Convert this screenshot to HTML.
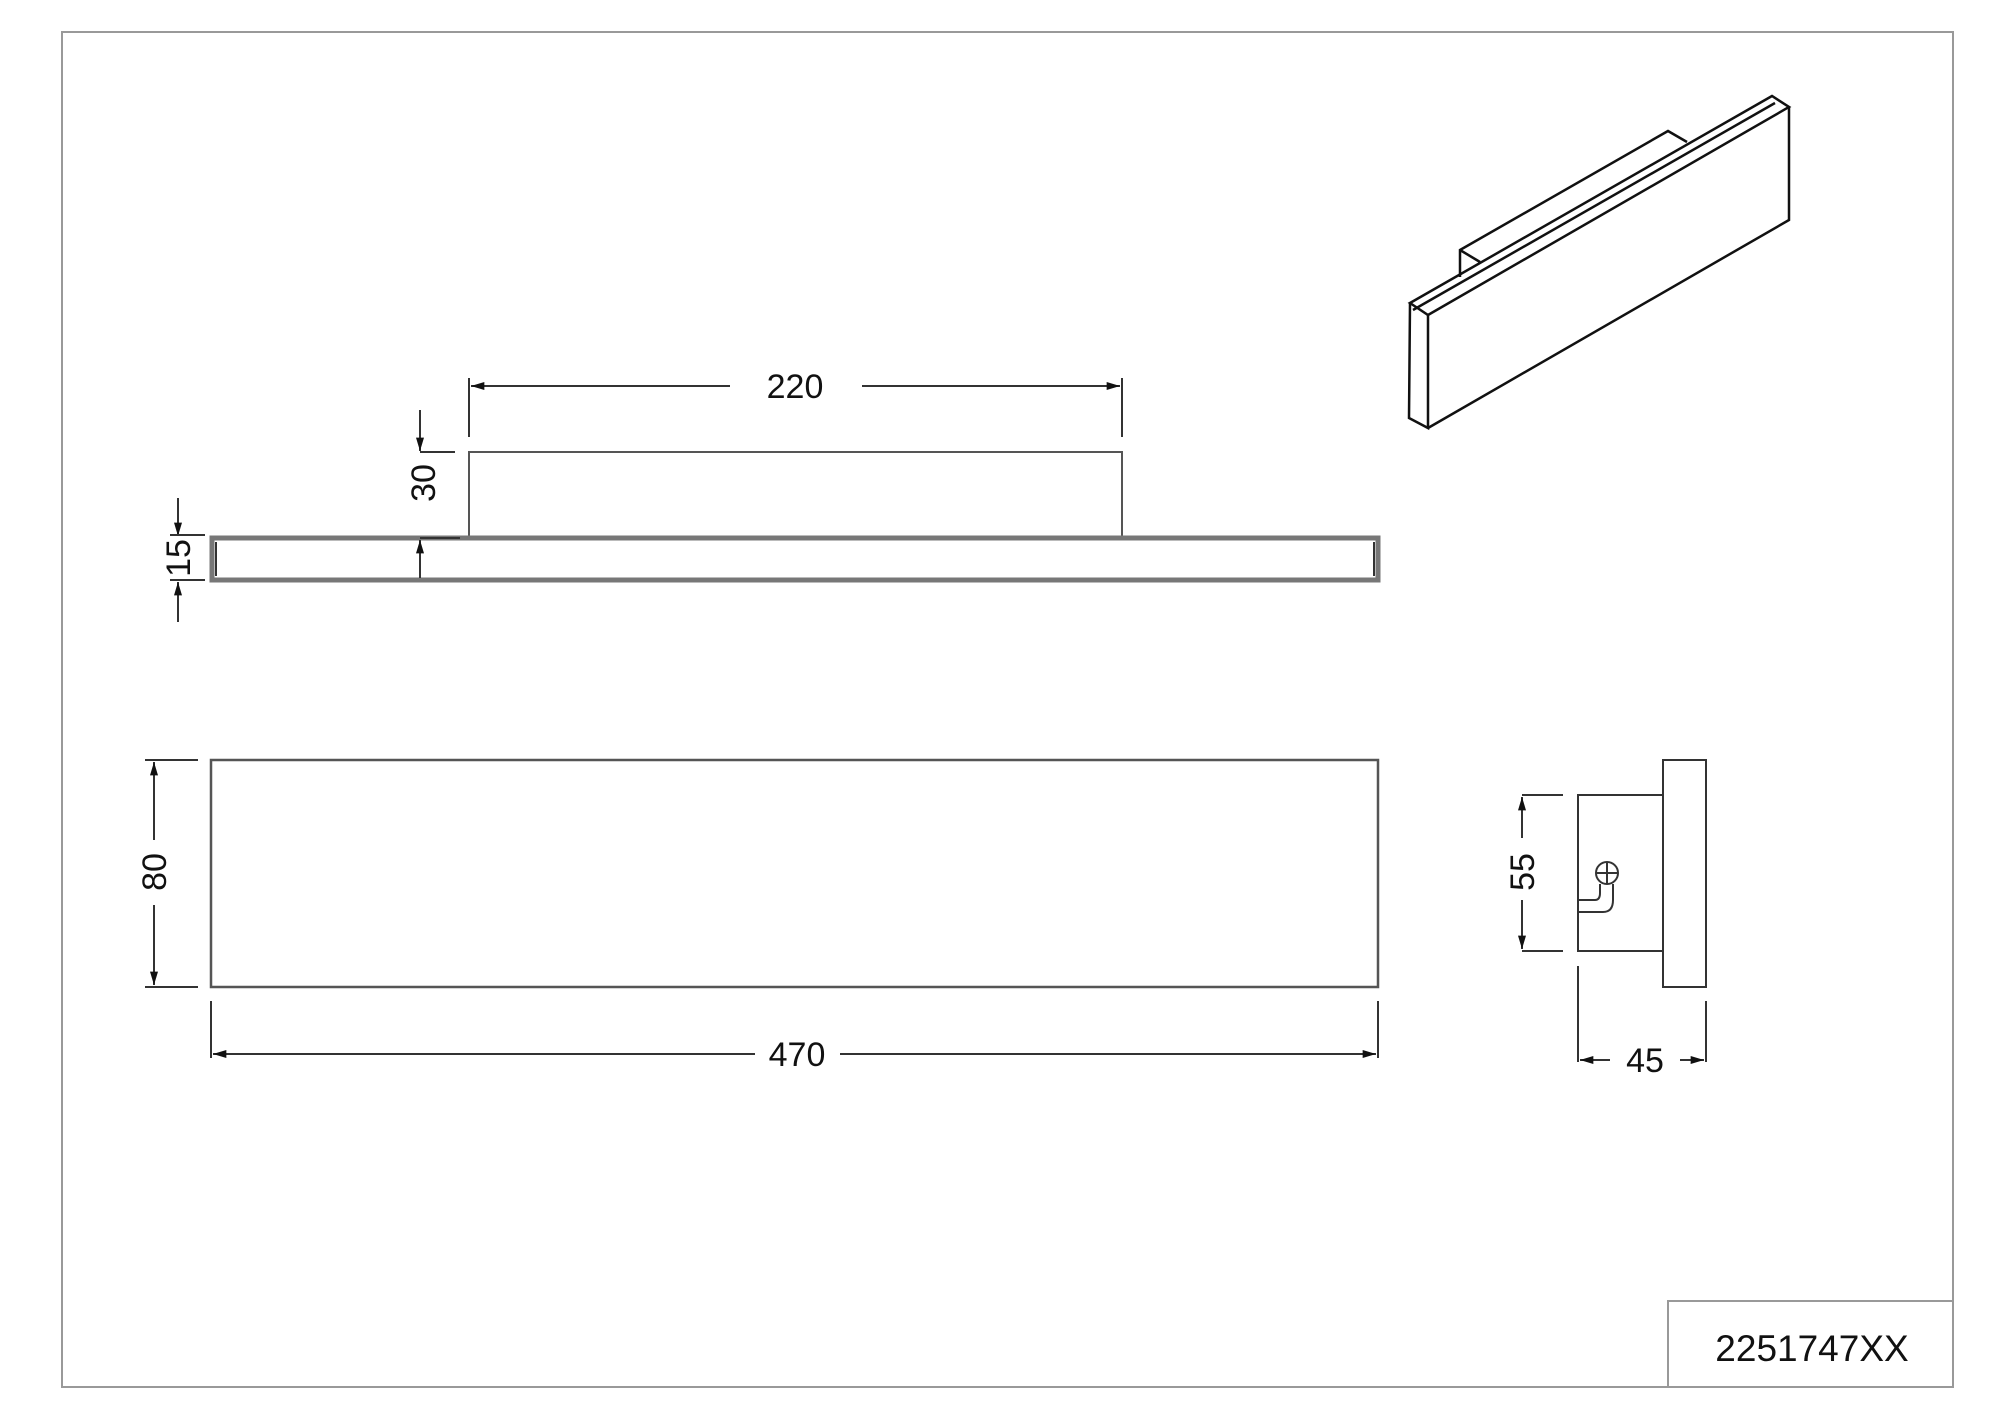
<!DOCTYPE html>
<html><head><meta charset="utf-8"><style>
html,body{margin:0;padding:0;background:#fff;}
svg{display:block;}
text{font-family:"Liberation Sans",sans-serif;fill:#111;}
</style></head><body>
<svg width="2000" height="1417" viewBox="0 0 2000 1417" xmlns="http://www.w3.org/2000/svg">
<defs>
<marker id="a" viewBox="0 0 10 6" refX="10" refY="3" markerWidth="14" markerHeight="8" markerUnits="userSpaceOnUse" orient="auto"><path d="M0,0 L10,3 L0,6 z" fill="#111"/></marker>
</defs>
<rect x="62" y="32" width="1891" height="1355" fill="none" stroke="#999" stroke-width="2"/>
<rect x="1668" y="1301" width="285" height="86" fill="none" stroke="#999" stroke-width="2"/>
<text x="1812" y="1361" font-size="37" text-anchor="middle">2251747XX</text>

<g stroke="#333" fill="none" stroke-width="2">
<rect x="469" y="452" width="653" height="85" stroke="#555"/>
<rect x="212" y="538" width="1166" height="42" stroke="#777" stroke-width="5"/>
<line x1="216" y1="542" x2="216" y2="576" stroke="#333" stroke-width="2"/>
<line x1="1374" y1="542" x2="1374" y2="576" stroke="#333" stroke-width="2"/>
<line x1="469" y1="378" x2="469" y2="437"/>
<line x1="1122" y1="378" x2="1122" y2="437"/>
<line x1="730" y1="386" x2="471" y2="386" marker-end="url(#a)"/>
<line x1="862" y1="386" x2="1120" y2="386" marker-end="url(#a)"/>
<line x1="420" y1="410" x2="420" y2="451" marker-end="url(#a)"/>
<line x1="420" y1="452" x2="455" y2="452"/>
<line x1="420" y1="578" x2="420" y2="540" marker-end="url(#a)"/>
<line x1="420" y1="538" x2="460" y2="538"/>
<line x1="178" y1="498" x2="178" y2="536" marker-end="url(#a)"/>
<line x1="178" y1="622" x2="178" y2="582" marker-end="url(#a)"/>
<line x1="170" y1="535" x2="205" y2="535"/>
<line x1="170" y1="580" x2="205" y2="580"/>

<rect x="211" y="760" width="1167" height="227" stroke="#555" stroke-width="2.5"/>
<line x1="154" y1="840" x2="154" y2="762" marker-end="url(#a)"/>
<line x1="154" y1="905" x2="154" y2="985" marker-end="url(#a)"/>
<line x1="145" y1="760" x2="198" y2="760"/>
<line x1="145" y1="987" x2="198" y2="987"/>
<line x1="211" y1="1001" x2="211" y2="1058"/>
<line x1="1378" y1="1001" x2="1378" y2="1058"/>
<line x1="755" y1="1054" x2="213" y2="1054" marker-end="url(#a)"/>
<line x1="840" y1="1054" x2="1376" y2="1054" marker-end="url(#a)"/>

<rect x="1663" y="760" width="43" height="227"/>
<rect x="1578" y="795" width="85" height="156"/>
<line x1="1522" y1="795" x2="1563" y2="795"/>
<line x1="1522" y1="951" x2="1563" y2="951"/>
<line x1="1522" y1="838" x2="1522" y2="797" marker-end="url(#a)"/>
<line x1="1522" y1="900" x2="1522" y2="949" marker-end="url(#a)"/>
<line x1="1578" y1="966" x2="1578" y2="1062"/>
<line x1="1706" y1="1001" x2="1706" y2="1062"/>
<line x1="1610" y1="1060" x2="1580" y2="1060" marker-end="url(#a)"/>
<line x1="1680" y1="1060" x2="1704" y2="1060" marker-end="url(#a)"/>
<circle cx="1607" cy="873" r="11"/>
<line x1="1596" y1="873" x2="1618" y2="873"/>
<line x1="1607" y1="862" x2="1607" y2="884"/>
<path d="M1579,900 L1595,900 Q1600,900 1600,893 L1600,884"/>
<path d="M1579,912 L1603,912 Q1613,912 1613,900 L1613,884"/>

<g stroke="#111" stroke-width="2.5">
<path d="M1410,303 L1772,96 L1789,107 L1428,315 Z"/>
<path d="M1413,310 L1775,103"/>
<path d="M1428,315 L1428,428 L1409,418 L1410,303"/>
<path d="M1789,107 L1789,220 L1428,428"/>
<path d="M1460,277 L1460,250 L1668,131 L1687,142"/>
<path d="M1460,250 L1480,262"/>
</g>
</g>

<text x="795" y="398" font-size="34" text-anchor="middle">220</text>
<text x="797" y="1066" font-size="34" text-anchor="middle">470</text>
<text x="1645" y="1072" font-size="34" text-anchor="middle">45</text>
<text transform="translate(435,483) rotate(-90)" font-size="34" text-anchor="middle">30</text>
<text transform="translate(190,558) rotate(-90)" font-size="34" text-anchor="middle">15</text>
<text transform="translate(166,872) rotate(-90)" font-size="34" text-anchor="middle">80</text>
<text transform="translate(1534,872) rotate(-90)" font-size="34" text-anchor="middle">55</text>
</svg>
</body></html>
